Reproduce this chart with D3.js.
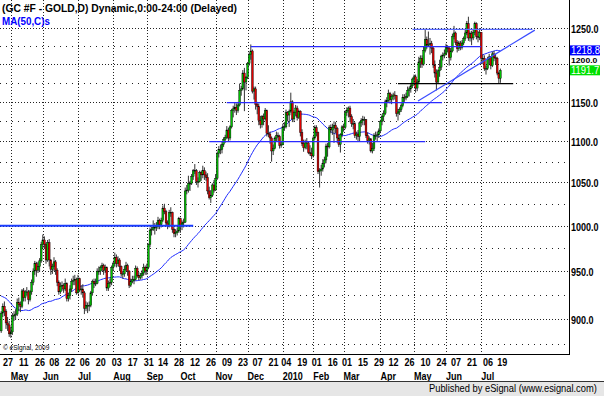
<!DOCTYPE html>
<html><head><meta charset="utf-8">
<script src="https://cdn.jsdelivr.net/npm/d3@7"></script>
<style>body{margin:0;background:#fff}svg{display:block}</style>
</head><body>
<svg id="c" width="604" height="396"></svg>
<script>
// ---------- DATA ----------
const firstIndex = -2; // trading-day index of first bar (0 = 27 Apr 2009)
const priorCloses = [946,949,944,967,976,978,1002,995,966,968,946,942,940,912,906,937,941,918,897,896,910,930,920,917,895,958,953,954,926,940,948,925,922,923,924,907,897,871,883,885,882,873,893,891,889,868,887,890,886];
const opens = [888,906,913,908,896,894,885,
887,903,904,905,917, 915,913,929,922,928, 928,920,928,938,950, 958,951,955,961,
979,984,979,962,981, 962,952,955,960,951, 938,928,934,935,931, 937,921,924,931,939,
940,941,927,942, 930,931,927,911,914, 914,914,927,939,937, 937,950,950,954,956,
951,954,932,937,938, 954,958,965,958,962, 955,947,947,952,956, 950,935,939,941,941,
953,945,943,945,948, 954,950,954,979,995, 996,998,998,999, 1006,1001,1006,1020,1016,
1003,1000,1015,1015,996, 991,992,994,1008,999, 1003,1004,1040,1041,1049, 1049,1057,1064,1064,1051,
1051,1062,1059,1064,1059, 1056,1040,1032,1035,1047, 1041,1055,1085,1090,1090, 1096,1102,1105,1114,1104,
1118,1139,1141,1143,1139, 1146,1165,1167,1188, 1176,1182,1201,1213,1218, 1164,1167,1147,1144,1126,
1121,1131,1128,1139,1110, 1109,1104,1088,1091, 1104,1107,1106,1095, 1096,1118,1118,1136,1133,
1138,1150,1128,1136,1142, 1130,1138,1111,1097, 1092,1098,1098,1086,1085, 1082,1104,1117,1111,1063,
1064,1066,1073,1077,1094, 1093,1117,1114,1117, 1120,1116,1104,1096,1108, 1118,1117,1136,1139,1142,
1131,1122,1122,1107,1109, 1106,1123,1126,1127,1127, 1107,1101,1103,1088,1091, 1107,1107,1108,1113,
1125,1131,1135,1150,1152, 1161,1153,1157,1159,1158, 1135,1137,1140,1145,1156, 1155,1157,1165,1167,1171,
1180,1183,1168,1176,1203, 1208,1200,1219,1234,1226, 1227,1228,1222,1199,1188, 1176,1191,1196,1211,1212,
1214,1223,1222,1209, 1218,1238,1243,1230,1221, 1229,1223,1229,1235,1243, 1256,1236,1242,1236,1244,
1256,1238,1237,1244,1208, 1208,1194,1194,1207, 1210,1198,1214,1209,1208, 1188,1181];
const highs = [908,916,918,910,902,898,892,
906,908,910,921,922, 918,931,932,930,933, 930,930,941,953,961, 960,960,964,982,
990,988,981,984,985, 963,958,965,962,953, 940,938,939,937,942, 938,927,935,942,945,
946,943,946,943, 935,936,929,918,917, 918,929,941,942,942, 953,955,956,959,958,
957,955,940,942,956, 960,970,968,966,964, 956,950,956,960,958, 951,942,945,945,956,
955,949,948,951,958, 956,958,980,998,999, 1006,1003,1004,1010, 1008,1009,1023,1025,1018,
1006,1018,1021,1016,998, 996,998,1010,1009,1006, 1008,1044,1047,1058,1052, 1060,1066,1072,1066,1056,
1064,1064,1070,1068,1063, 1061,1045,1041,1049,1053, 1060,1087,1094,1096,1099, 1105,1108,1119,1117,1120,
1141,1145,1149,1148,1150, 1174,1171,1192,1195, 1184,1203,1216,1227,1220, 1170,1170,1150,1148,1132,
1133,1135,1142,1140,1120, 1112,1106,1096,1106, 1112,1111,1108,1100, 1122,1124,1140,1138,1140,
1162,1152,1139,1146,1145, 1140,1139,1115,1102, 1102,1104,1100,1095,1092, 1106,1120,1120,1112,1067,
1071,1078,1081,1097,1098, 1120,1121,1122,1125, 1124,1118,1108,1110,1120, 1122,1139,1143,1144,1145,
1134,1128,1124,1112,1114, 1125,1129,1132,1131,1128, 1111,1106,1104,1098,1110, 1112,1112,1116,1127,
1134,1139,1153,1156,1166, 1163,1160,1162,1164,1159, 1141,1143,1148,1160,1160, 1162,1170,1170,1175,1182,
1186,1186,1180,1210,1212, 1212,1224,1249,1238,1245, 1236,1232,1224,1205,1193, 1193,1206,1213,1216,1220,
1228,1226,1224,1222, 1242,1253,1245,1233,1232, 1232,1233,1238,1247,1260, 1266,1245,1246,1248,1259,
1258,1246,1250,1244,1213, 1212,1198,1210,1214, 1211,1217,1218,1214,1210, 1190,1194];
const lows = [886,902,903,890,888,882,881,
884,898,899,903,908, 907,911,918,918,924, 915,918,925,935,946, 944,948,949,959,
975,974,958,960,955, 946,947,950,946,934, 925,926,929,927,929, 918,918,920,928,935,
935,925,926,928, 925,922,905,908,906, 908,912,924,932,934, 936,946,946,950,946,
948,929,929,933,935, 950,955,954,955,950, 944,942,944,950,945, 932,933,937,936,940,
943,940,941,942,945, 946,946,952,976,989, 994,990,994,996, 996,998,1004,1013,1000,
996,998,1010,992,987, 987,989,992,992,995, 998,1003,1036,1038,1040, 1047,1053,1060,1047,1044,
1050,1052,1055,1053,1052, 1036,1030,1026,1033,1038, 1040,1053,1080,1084,1085, 1093,1098,1103,1100,1101,
1116,1130,1136,1133,1136, 1144,1158,1165,1138, 1165,1180,1198,1206,1161, 1153,1140,1134,1120,1116,
1117,1120,1126,1106,1105, 1097,1075,1083,1090, 1100,1100,1091,1092, 1095,1113,1116,1125,1118,
1136,1124,1124,1132,1126, 1128,1106,1094,1087, 1090,1090,1084,1082,1078, 1080,1102,1106,1060,1044,
1058,1063,1068,1073,1081, 1091,1110,1108,1098, 1110,1098,1093,1086,1105, 1112,1115,1132,1130,1124,
1118,1115,1104,1102,1100, 1100,1118,1120,1120,1104, 1097,1096,1086,1085,1088, 1102,1100,1104,1110,
1120,1125,1133,1143,1150, 1148,1147,1152,1153,1131, 1126,1133,1137,1143,1150, 1152,1155,1157,1162,1168,
1175,1162,1164,1174,1195, 1195,1198,1216,1221,1224, 1213,1215,1195,1182,1165, 1174,1183,1192,1205,1208,
1212,1216,1198,1205, 1216,1234,1226,1216,1218, 1219,1220,1226,1232,1240, 1232,1231,1226,1233,1240,
1234,1230,1233,1200,1200, 1191,1186,1192,1200, 1193,1196,1204,1200,1185, 1174,1175];
const closes = [906,913,908,896,894,885,887,
903,904,905,917,915, 913,929,922,928,928, 920,928,938,950,958, 951,955,961,979,
984,979,962,981,962, 952,955,960,951,938, 928,934,935,931,937, 921,924,931,939,940,
941,927,942,930, 931,927,911,914,914, 914,927,939,937,937, 950,950,954,956,951,
954,932,937,938,954, 958,965,958,962,955, 947,947,952,956,950, 935,939,941,941,953,
945,943,945,948,954, 950,954,979,995,996, 998,998,999,1006, 1001,1006,1020,1016,1003,
1000,1015,1015,996,991, 992,994,1008,999,1003, 1004,1040,1041,1049,1049, 1057,1064,1064,1051,1051,
1062,1059,1064,1059,1056, 1040,1032,1035,1047,1041, 1055,1085,1090,1090,1096, 1102,1105,1114,1104,1118,
1139,1141,1143,1139,1146, 1165,1167,1188,1176, 1182,1201,1213,1218,1164, 1167,1147,1144,1126,1121,
1131,1128,1139,1110,1109, 1104,1088,1091,1104, 1107,1106,1095,1096, 1118,1118,1136,1133,1138,
1150,1128,1136,1142,1130, 1138,1111,1097,1092, 1098,1098,1086,1085,1082, 1104,1117,1111,1063,1064,
1066,1073,1077,1094,1093, 1117,1114,1117,1120, 1116,1104,1096,1108,1118, 1117,1136,1139,1142,1131,
1122,1122,1107,1109,1106, 1123,1126,1127,1127,1107, 1101,1103,1088,1091,1107, 1107,1108,1113,1125,
1131,1135,1150,1152,1161, 1153,1157,1159,1158,1135, 1137,1140,1145,1156,1155, 1157,1165,1167,1171,1180,
1183,1168,1176,1203,1208, 1200,1219,1234,1226,1227, 1228,1222,1199,1188,1176, 1191,1196,1211,1212,1214,
1223,1222,1209,1218, 1238,1243,1230,1221,1229, 1223,1229,1235,1243,1256, 1236,1242,1236,1244,1256,
1238,1237,1244,1208,1208, 1194,1194,1207,1210, 1198,1214,1209,1208,1188, 1181,1191.7];

const dayTickIndex = [0,10,20,29,39,48,58,68,78,88,97,107,117,127,137,147,156,166,174,184,193,203,212,222,232,241,251,261,271,280,290,300,309];
const dayTickLabels = ["27","11","26","08","22","06","20","03","17","31","14","28","12","26","09","23","07","21","04","19","01","16","01","15","29","12","26","10","24","07","21","06","19"];
const monthStartIndex = [4,24,46,68,89,110,132,152,174,193,212,235,256,276,298];
const monthLabels = ["May","Jun","Jul","Aug","Sep","Oct","Nov","Dec","2010","Feb","Mar","Apr","May","Jun","Jul"];
const priceTicks = [900,950,1000,1050,1100,1150,1200,1250];
const minorPriceTicks = [875,925,975,1025,1075,1125,1175,1225];
// drawn level lines: price, from index, to index, colour, width
const levelPrices = [1000, 1224, 1149, 1099.5, 1248, 1174];
const levelFrom   = [-4, 154, 139, 128, 255, 246];
const levelTo     = [118, 298, 273.5, 263, 330, 318];
const levelColors = ["#1a3cff","#2a2aff","#2a2aff","#2a2aff","#5a6cff","#000"];
const levelWidths = [2, 1.3, 1.3, 1.3, 1.3, 1.2];
// drawn trend line (index, price)
const trendIdx = [258.5, 331.5];
const trendPrice = [1151, 1247];
const maPeriod = 50;
const lastMA = 1218.8, lastClose = 1191.7;

// ---------- SCALES ----------
const W = 604, H = 396, plotW = 569, plotH = 354;
const x = d3.scaleLinear().domain([0, 310]).range([4.4, 500.4]);
const y = d3.scaleLog().domain([900, 1250]).range([319, 28]);

const bars = closes.map((c, k) => ({
  i: firstIndex + k,
  o: opens[k], h: Math.max(highs[k], opens[k], c), l: Math.min(lows[k], opens[k], c), c
}));
const allCloses = priorCloses.concat(closes);
const ma = closes.map((c, k) => {
  const j = k + priorCloses.length;
  return { i: firstIndex + k, v: d3.mean(allCloses.slice(j - maPeriod + 1, j + 1)) };
});

const svg = d3.select("#c");
svg.append("rect").attr("width", W).attr("height", H).attr("fill", "#fff");
const defs = svg.append("defs");
defs.append("clipPath").attr("id", "pc").append("rect")
  .attr("x", 0).attr("y", 0).attr("width", plotW).attr("height", plotH);
const g = svg.append("g").attr("clip-path", "url(#pc)");

// grid
g.selectAll(".hmaj").data(priceTicks).join("line")
  .attr("x1", 0).attr("x2", plotW)
  .attr("y1", d => Math.round(y(d)) + 0.5).attr("y2", d => Math.round(y(d)) + 0.5)
  .attr("stroke", "#222").attr("stroke-dasharray", "1,2");
g.selectAll(".hmin").data(minorPriceTicks).join("line")
  .attr("x1", 0).attr("x2", plotW)
  .attr("y1", d => Math.round(y(d)) + 0.5).attr("y2", d => Math.round(y(d)) + 0.5)
  .attr("stroke", "#222").attr("stroke-dasharray", "1,5");
g.selectAll(".vg").data(monthStartIndex).join("line")
  .attr("x1", d => Math.round(x(d)) + 0.5).attr("x2", d => Math.round(x(d)) + 0.5)
  .attr("y1", 0).attr("y2", plotH)
  .attr("stroke", "#222").attr("stroke-dasharray", "1,2");

// MA line
g.append("path").datum(ma)
  .attr("fill", "none").attr("stroke", "#1f2cff").attr("stroke-width", 1)
  .attr("d", d3.line().x(d => x(d.i)).y(d => y(d.v)));

// candles
const cg = g.append("g");
cg.selectAll(".w").data(bars).join("line")
  .attr("x1", d => x(d.i)).attr("x2", d => x(d.i))
  .attr("y1", d => y(d.h)).attr("y2", d => y(d.l))
  .attr("stroke", "#333").attr("stroke-width", 1);
cg.selectAll(".b").data(bars).join("rect")
  .attr("x", d => x(d.i) - 0.9).attr("width", 1.8)
  .attr("y", d => y(Math.max(d.o, d.c)))
  .attr("height", d => Math.max(0.8, y(Math.min(d.o, d.c)) - y(Math.max(d.o, d.c))))
  .attr("fill", d => d.c >= d.o ? "#00c000" : "#e00000")
  .attr("stroke", "#000").attr("stroke-width", 0.4);

// drawn lines
g.selectAll(".lv").data(levelPrices).join("line")
  .attr("x1", (d, k) => x(levelFrom[k])).attr("x2", (d, k) => x(levelTo[k]))
  .attr("y1", d => y(d)).attr("y2", d => y(d))
  .attr("stroke", (d, k) => levelColors[k]).attr("stroke-width", (d, k) => levelWidths[k]);
g.append("line")
  .attr("x1", x(trendIdx[0])).attr("y1", y(trendPrice[0]))
  .attr("x2", x(trendIdx[1])).attr("y2", y(trendPrice[1]))
  .attr("stroke", "#3a4cff").attr("stroke-width", 1.2);

// frame
svg.append("line").attr("x1", plotW + 0.5).attr("x2", plotW + 0.5).attr("y1", 0).attr("y2", plotH + 1)
  .attr("stroke", "#000");
svg.append("line").attr("x1", 0).attr("x2", plotW + 1).attr("y1", plotH + 0.5).attr("y2", plotH + 0.5)
  .attr("stroke", "#000");

const font = "'Liberation Sans', Arial, sans-serif";
function sqText(parent, txt, tx, ty, opts) {
  const o = Object.assign({ size: 11, weight: "bold", sx: 0.82, fill: "#000", anchor: "start" }, opts || {});
  return parent.append("text")
    .attr("transform", `translate(${tx},${ty}) scale(${o.sx},1)`)
    .attr("font-family", font).attr("font-size", o.size).attr("font-weight", o.weight)
    .attr("fill", o.fill).attr("text-anchor", o.anchor).text(txt);
}
// fit a text into a given width with a horizontal scale
function fitText(parent, txt, tx, ty, width, opts) {
  const t = sqText(parent, txt, tx, ty, Object.assign({}, opts, { sx: 1 }));
  const w = t.node().getComputedTextLength();
  t.attr("transform", `translate(${tx},${ty}) scale(${width / w},1)`);
  return t;
}

// right axis labels; the 1200 label sits squeezed in the gap between the two value boxes
const yMA = y(lastMA), yLast = y(lastClose);
priceTicks.forEach(p => {
  if (p === 1200) {
    sqText(svg, d3.format(".1f")(p), 571, (yMA + yLast) / 2 + 2.8, { size: 7.5, sx: 1.15 });
  } else {
    sqText(svg, d3.format(".1f")(p), 571, Math.round(y(p)) + 4.5);
  }
});
// value boxes
[[lastMA, "#0000ff"], [lastClose, "#00e000"]].forEach(([v, col]) => {
  const yy = y(v);
  svg.append("rect").attr("x", 570).attr("y", yy - 5).attr("width", 30).attr("height", 10).attr("fill", col);
  sqText(svg, d3.format(".1f")(v), 571, yy + 4, { fill: "#fff", weight: "normal", sx: 0.86 });
});

// x axis labels
dayTickIndex.forEach((d, k) => {
  sqText(svg, dayTickLabels[k], x(d) - 1.5, 366);
});
monthStartIndex.forEach((d, k) => {
  sqText(svg, monthLabels[k], x(d), 380);
});

// header text
fitText(svg, "(GC #F  - GOLD,D) Dynamic,0:00-24:00 (Delayed)", 2, 12, 235);
fitText(svg, "MA(50,C)s", 2, 25, 48, { fill: "#0000ff" });
svg.append("text").attr("x", 3).attr("y", 350)
  .attr("font-family", font).attr("font-size", 6.5).attr("fill", "#000")
  .text("\u00a9 eSignal, 2009");

// bottom band
svg.append("rect").attr("x", 0).attr("y", 381).attr("width", W).attr("height", 15).attr("fill", "#e6e6e6");
svg.append("line").attr("x1", 0).attr("x2", W).attr("y1", 381.5).attr("y2", 381.5).attr("stroke", "#333");
fitText(svg, "Published by eSignal (www.esignal.com)", 429, 392, 168, { weight: "normal", size: 10.5 });
</script>
</body></html>
